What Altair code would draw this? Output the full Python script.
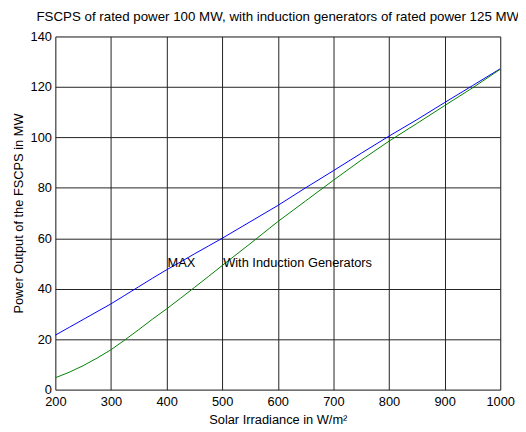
import altair as alt
import pandas as pd

irradiance = [200, 225, 250, 275, 300, 325, 350, 375, 400, 425, 450, 475, 500, 550, 600, 650, 700, 750, 800, 850, 900, 950, 1000]
max_power = [21.6, 24.7, 27.8, 30.9, 34.0, 37.4, 40.8, 44.2, 47.5, 50.6, 53.8, 56.9, 60.0, 66.5, 73.0, 80.0, 86.8, 93.7, 100.5, 107.0, 113.8, 120.5, 127.2]
ig_power = [4.7, 6.9, 9.5, 12.5, 15.8, 19.7, 23.8, 28.0, 32.0, 36.2, 40.5, 44.8, 49.2, 57.8, 66.6, 74.8, 83.0, 91.0, 98.5, 105.5, 112.6, 119.6, 127.0]

label_texts = ["MAX", "With Induction Generators"]
label_x = [400, 500]
label_y = [50, 50]

title_text = "FSCPS of rated power 100 MW, with induction generators of rated power 125 MW"
x_title = "Solar Irradiance in W/m²"
y_title = "Power Output of the FSCPS in MW"

FONT = "Liberation Sans"

rows = []
for x, v in zip(irradiance, max_power):
    rows.append({"x": x, "y": v, "series": "MAX"})
for x, v in zip(irradiance, ig_power):
    rows.append({"x": x, "y": v, "series": "IG"})
df = pd.DataFrame(rows)

labels_df = pd.DataFrame({"x": label_x, "y": label_y, "text": label_texts})

xscale = alt.Scale(domain=[200, 1000], nice=False, zero=False)
yscale = alt.Scale(domain=[0, 140], nice=False)

xaxis = alt.Axis(values=list(range(200, 1001, 100)), format="d", title=x_title, grid=True,
                 gridColor="#222222", gridWidth=1, ticks=False, domain=False,
                 labelFont=FONT, labelFontSize=13, labelColor="black", labelPadding=6,
                 titleFont=FONT, titleFontSize=13, titleFontWeight="normal",
                 titleColor="black", titlePadding=5, labelFlush=False)
yaxis = alt.Axis(values=list(range(0, 141, 20)), format="d", title=y_title, grid=True,
                 gridColor="#222222", gridWidth=1, ticks=False, domain=False,
                 labelFont=FONT, labelFontSize=13, labelColor="black", labelPadding=4,
                 titleFont=FONT, titleFontSize=13, titleFontWeight="normal",
                 titleColor="black", titlePadding=5, labelFlush=False)

lines = alt.Chart(df).mark_line(strokeWidth=1).encode(
    x=alt.X("x:Q", scale=xscale, axis=xaxis),
    y=alt.Y("y:Q", scale=yscale, axis=yaxis),
    color=alt.Color("series:N", scale=alt.Scale(domain=["MAX", "IG"], range=["#0000ff", "#008000"]), legend=None),
    detail="series:N",
)

texts = alt.Chart(labels_df).mark_text(align="left", baseline="middle", font=FONT, fontSize=13, color="black", dx=1).encode(
    x=alt.X("x:Q", scale=xscale),
    y=alt.Y("y:Q", scale=yscale),
    text="text:N",
)

chart = alt.layer(lines, texts).properties(
    width=451,
    height=358,
    title=alt.TitleParams(title_text, font=FONT, fontSize=13.5, fontWeight="normal", color="black", anchor="middle", offset=7),
    autosize=alt.AutoSizeParams(type="none"),
    padding={"left": 48, "top": 26, "right": 18, "bottom": 34},
).configure_view(stroke="black", strokeWidth=1.5).configure(background="white")

chart.save("out.html", embed_options={"renderer": "svg", "actions": False})
